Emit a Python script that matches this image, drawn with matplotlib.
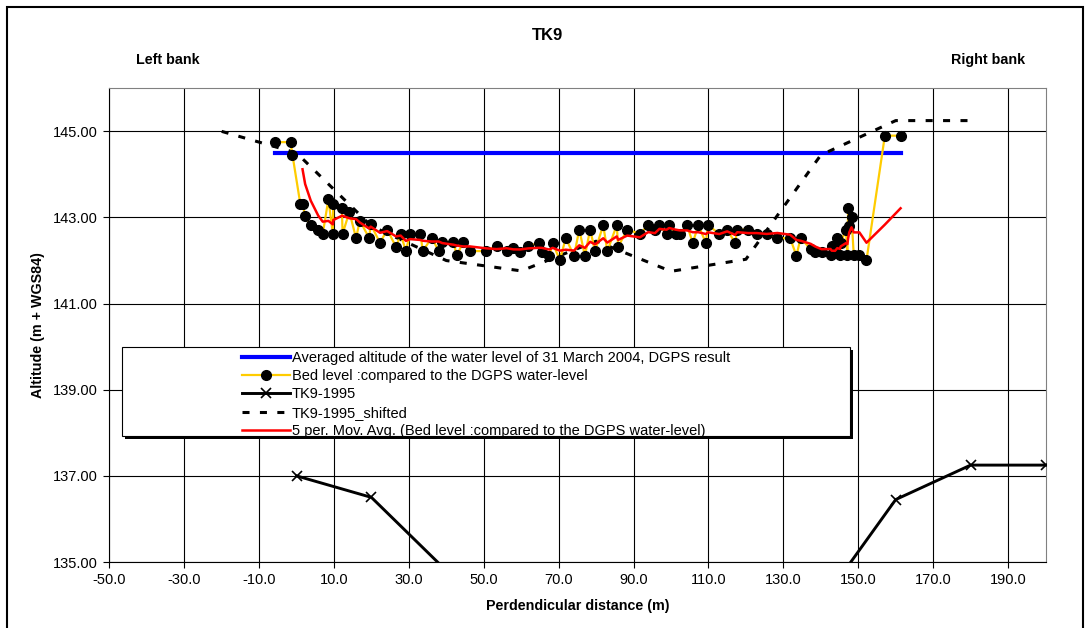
import numpy as np
import pandas as pd
import matplotlib
matplotlib.use('Agg')
import matplotlib.pyplot as plt
from matplotlib.patches import Rectangle

plt.rcParams['font.family'] = ['Liberation Sans', 'DejaVu Sans']

### 0. Inputs
# water level (DGPS), averaged
x_water = [-5.8, 161.3]
y_water = [144.5, 144.5]

# bed level compared to the DGPS water level
x_bed = [-5.8, -1.6, -1.1, 1.0, 1.6, 2.3, 3.8, 5.8, 7.0, 8.5, 9.7, 9.8, 12.1, 12.3,
         14.1, 15.9, 16.9, 19.4, 19.8, 22.3, 24.2, 26.6, 27.8, 29.2, 30.3, 33.1,
         33.7, 36.1, 38.0, 38.9, 41.9, 42.8, 44.5, 46.3, 50.6, 53.4, 56.1, 57.9,
         59.7, 61.9, 64.8, 65.5, 67.5, 68.4, 70.3, 71.9, 74.1, 75.5, 77.0, 78.4,
         79.7, 81.9, 83.0, 85.5, 85.9, 88.3, 91.7, 93.9, 95.7, 96.9, 98.8, 99.5,
         101.3, 102.4, 104.3, 105.8, 107.3, 109.3, 109.9, 112.9, 115.0, 117.1,
         117.7, 120.6, 122.9, 125.5, 128.4, 131.8, 133.5, 134.6, 137.3, 138.5,
         140.2, 142.6, 142.9, 143.8, 144.4, 145.1, 145.3, 146.7, 147.1, 147.3,
         147.6, 148.2, 148.8, 150.3, 152.2, 157.1, 161.3]
y_bed = [144.75, 144.75, 144.46, 143.32, 143.32, 143.03, 142.82, 142.72, 142.62,
         143.42, 142.62, 143.32, 143.22, 142.62, 143.13, 142.52, 142.93, 142.52,
         142.84, 142.41, 142.72, 142.31, 142.62, 142.22, 142.62, 142.62, 142.22,
         142.53, 142.22, 142.44, 142.43, 142.12, 142.43, 142.22, 142.22, 142.34,
         142.22, 142.30, 142.21, 142.34, 142.41, 142.21, 142.11, 142.41, 142.01,
         142.52, 142.11, 142.72, 142.11, 142.72, 142.22, 142.82, 142.22, 142.82,
         142.32, 142.72, 142.62, 142.82, 142.70, 142.82, 142.62, 142.82, 142.62,
         142.62, 142.82, 142.41, 142.82, 142.41, 142.82, 142.62, 142.72, 142.41,
         142.72, 142.72, 142.62, 142.62, 142.52, 142.52, 142.11, 142.53, 142.26,
         142.21, 142.21, 142.13, 142.34, 142.24, 142.52, 142.13, 142.41, 142.72,
         142.13, 143.21, 142.80, 143.00, 142.13, 142.13, 142.01, 144.90, 144.90]

# 1995 survey and shifted version
x_1995 = [0, 20, 40, 60, 80, 100, 120, 140, 160, 180, 200]
y_1995 = [137.0, 136.5, 134.8, 134.0, 133.76, 134.45, 133.75, 134.03, 136.45, 137.25, 137.25]
x_shift = [-20, 0, 20, 40, 60, 80, 100, 120, 140, 160, 180]
y_shift = [145.0, 144.5, 142.8, 142.0, 141.76, 142.45, 141.75, 142.03, 144.45, 145.25, 145.25]

x_ticks = np.arange(-50, 200, 20)
y_ticks = np.arange(135, 146, 2)

### 1. Variables
ma = pd.Series(y_bed).rolling(5).mean()

### 2. Plots
W, H = 1088, 628
fig = plt.figure(figsize=(W / 100, H / 100), dpi=100)
ax = fig.add_axes([109.3 / W, 1 - 562 / H, (1045.5 - 109.3) / W, (562 - 88.3) / H])

ax.plot(x_water, y_water, color='#0000FF', lw=3.0, zorder=2,
        label='Averaged altitude of the water level of 31 March 2004, DGPS result')
ax.plot(x_bed, y_bed, color='#FFCC00', lw=1.6, marker='o', ms=7, mfc='black', mec='black',
        zorder=3, label='Bed level :compared to the DGPS water-level')
ax.plot(x_1995, y_1995, color='black', lw=2.1, marker='x', ms=6.5, mew=1.2, zorder=3,
        label='TK9-1995')
ax.plot(x_shift, y_shift, color='black', lw=2.2, dashes=(2.3, 3.4), dash_capstyle='butt',
        zorder=2.5, label='TK9-1995_shifted')
ax.plot(x_bed, ma, color='#FF0000', lw=1.8, zorder=4,
        label='5 per. Mov. Avg. (Bed level :compared to the DGPS water-level)')

ax.set_xlim([-50, 200])
ax.set_ylim([135, 146])
ax.set_xticks(x_ticks)
ax.set_yticks(y_ticks)
ax.set_xticklabels(['{:.1f}'.format(v) for v in x_ticks], fontsize=10.5)
ax.set_yticklabels(['{:.2f}'.format(v) for v in y_ticks], fontsize=10.5)
ax.tick_params(direction='out', length=4, width=0.8, pad=4)
ax.grid(True, color='black', lw=0.8)
ax.set_axisbelow(True)
for s in ['top', 'right']:
    ax.spines[s].set_color('#808080')
for s in ['left', 'bottom']:
    ax.spines[s].set_color('black')

# legend box with shadow, like the spreadsheet one
x0, y0, x1, y1 = 122, 347, 850, 436
px = lambda x, y: (x / W, 1 - y / H)
ax.add_patch(Rectangle(px(x0 + 3, y1 + 3), (x1 - x0) / W, (y1 - y0) / H, transform=fig.transFigure,
                       facecolor='black', edgecolor='none', zorder=10, clip_on=False))
ax.add_patch(Rectangle(px(x0, y1), (x1 - x0) / W, (y1 - y0) / H, transform=fig.transFigure,
                       facecolor='white', edgecolor='black', lw=0.8, zorder=11, clip_on=False))
leg = ax.legend(loc='upper left', bbox_to_anchor=px(242, 351), bbox_transform=fig.transFigure,
                frameon=False, fontsize=10.5, handlelength=3.3, handletextpad=0.12,
                labelspacing=0.29, borderpad=0, borderaxespad=0)
leg.set_zorder(12)

fig.text(548 / W, 1 - 36 / H, 'TK9', ha='center', va='center', fontsize=12, fontweight='bold')
fig.text(168 / W, 1 - 60 / H, 'Left bank', ha='center', va='center', fontsize=10.3, fontweight='bold')
fig.text(988 / W, 1 - 60 / H, 'Right bank', ha='center', va='center', fontsize=10.3, fontweight='bold')
fig.text(38 / W, 1 - 325 / H, 'Altitude (m + WGS84)', ha='center', va='center', rotation=90,
         fontsize=10.3, fontweight='bold')
fig.text(578 / W, 1 - 606 / H, 'Perdendicular distance (m)', ha='center', va='center',
         fontsize=10.3, fontweight='bold')

# outer chart frame
fig.patches.append(Rectangle((7 / W, -0.05), (1083 - 7) / W, 1.05 - 7 / H, transform=fig.transFigure,
                             fill=False, edgecolor='black', lw=1.5))

fig.savefig('out.png', dpi=100)
